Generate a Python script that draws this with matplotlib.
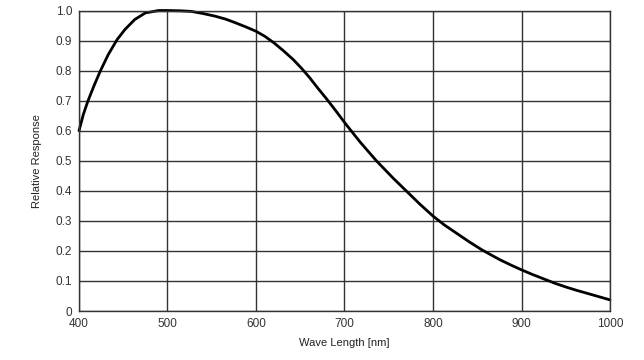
import matplotlib
matplotlib.use("Agg")
import matplotlib.pyplot as plt

plt.rcParams['font.family'] = ['Liberation Sans', 'DejaVu Sans']

# curve
wavelength = [400, 405, 410, 417, 424, 433, 443, 452, 463, 475, 490, 500,
              515, 527, 540, 554, 566, 576, 588, 600, 610, 620, 631, 642,
              652, 661, 670, 680, 691, 702, 718, 736, 755, 770, 785, 800,
              813, 827, 841, 855, 866, 876, 888, 900, 912, 925, 938, 951,
              962, 974, 987, 1000]
response = [0.60, 0.655, 0.698, 0.75, 0.798, 0.853, 0.903, 0.937, 0.970, 0.992,
            1.0, 1.0, 0.999, 0.997, 0.99, 0.981, 0.971, 0.96, 0.946, 0.931,
            0.914, 0.893, 0.866, 0.837, 0.806, 0.775, 0.741, 0.705, 0.663, 0.620,
            0.561, 0.500, 0.442, 0.399, 0.356, 0.316, 0.286, 0.258, 0.23, 0.204,
            0.186, 0.17, 0.153, 0.137, 0.122, 0.107, 0.092, 0.079, 0.069, 0.059,
            0.048, 0.037]

x_ticks = [400, 500, 600, 700, 800, 900, 1000]
y_ticks = [0, 0.1, 0.2, 0.3, 0.4, 0.5, 0.6, 0.7, 0.8, 0.9, 1.0]
y_labels = ["0", "0.1", "0.2", "0.3", "0.4", "0.5", "0.6", "0.7", "0.8", "0.9", "1.0"]

fig = plt.figure(figsize=(6.44, 3.6), dpi=100)
ax = fig.add_axes([79 / 644, 49 / 360, 531 / 644, 300.5 / 360])

ax.plot(wavelength, response, color="black", linewidth=2.0,
        solid_joinstyle="round", solid_capstyle="round", clip_on=False)

ax.set_xlim(400, 1000)
ax.set_ylim(0, 1.0)
ax.set_xticks(x_ticks)
ax.set_yticks(y_ticks)
ax.set_yticklabels(y_labels)
ax.tick_params(length=0, labelsize=8.5, colors="#333333", pad=5)
ax.grid(True, color="#333333", linewidth=1.0)
ax.set_axisbelow(True)
for s in ax.spines.values():
    s.set_color("#333333")
    s.set_linewidth(1.0)

ax.set_xlabel("Wave Length [nm]", fontsize=8, color="#222222", labelpad=6)
ax.set_ylabel("Relative Response", fontsize=8, color="#222222", labelpad=10)

fig.savefig("out.png", dpi=100)
